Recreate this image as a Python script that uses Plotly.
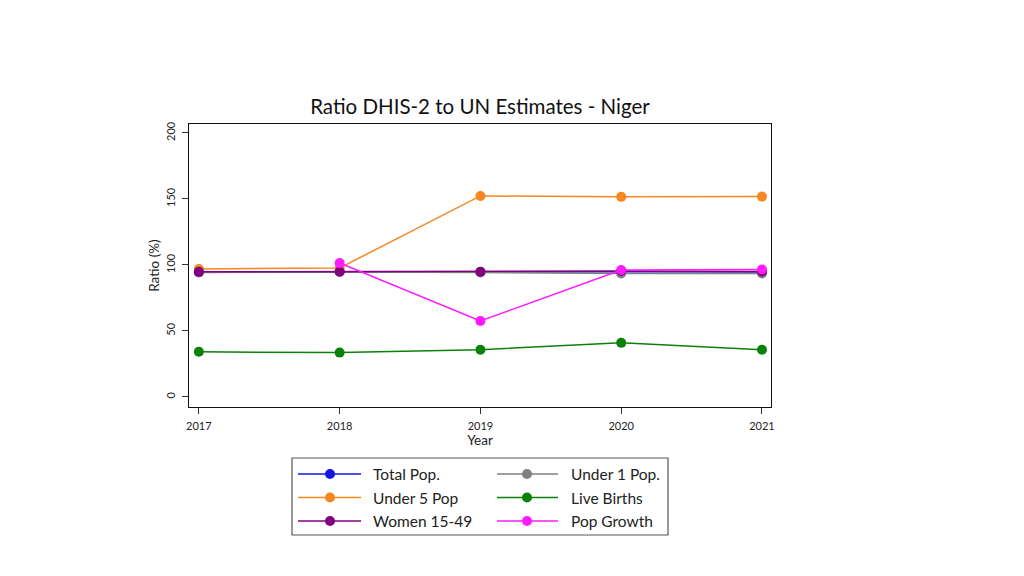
import plotly.graph_objects as go

years = [2017, 2018, 2019, 2020, 2021]
total_pop = [94.6, 94.9, 94.7, 94.9, 94.6]
under1_pop = [94.3, 94.7, 94.3, 93.6, 93.5]
under5_pop = [97.0, 97.7, 152.3, 151.6, 151.8]
live_births = [34.2, 33.6, 35.8, 41.0, 35.8]
women_15_49 = [94.8, 95.0, 94.9, 95.4, 95.0]
pop_growth = [None, 101.5, 57.6, 96.2, 96.6]

y_ticks = [0, 50, 100, 150, 200]

series = [
    ("Total Pop.", total_pop, "#1414e6"),
    ("Under 1 Pop.", under1_pop, "#808080"),
    ("Under 5 Pop", under5_pop, "#f7871e"),
    ("Live Births", live_births, "#0a820a"),
    ("Women 15-49", women_15_49, "#800080"),
    ("Pop Growth", pop_growth, "#ff1aff"),
]

fig = go.Figure()
for name, vals, col in series:
    fig.add_trace(go.Scatter(
        x=years, y=vals, name=name, mode="lines+markers",
        line=dict(color=col, width=1.5),
        marker=dict(color=col, size=10),
        showlegend=False,
    ))

# plot area in page pixels (page has 8px body offset)
PL, PR, PT, PB = 189, 771, 124, 407
def px(x):
    return (x - PL) / (PR - PL)
def py(y):
    return (PB - y) / (PB - PT)

FONT = "Lato"
shapes = [dict(type="rect", xref="paper", yref="paper",
               x0=px(292), x1=px(668), y0=py(535), y1=py(458),
               line=dict(color="#555", width=1.2), fillcolor="rgba(0,0,0,0)")]
annotations = []
row_y = [474, 497.5, 521]
cols = [(298, 361, 330, 371), (497, 558, 527, 569)]
for i, (name, vals, col) in enumerate(series):
    c = cols[i % 2]
    ry = row_y[i // 2]
    shapes.append(dict(type="line", xref="paper", yref="paper",
                       x0=px(c[0]), x1=px(c[1]), y0=py(ry), y1=py(ry),
                       line=dict(color=col, width=1.5)))
    shapes.append(dict(type="circle", xref="paper", yref="paper",
                       xsizemode="pixel", ysizemode="pixel",
                       xanchor=px(c[2]), yanchor=py(ry),
                       x0=-5, x1=5, y0=-5, y1=5,
                       line=dict(color=col, width=0), fillcolor=col))
    annotations.append(dict(text=name, xref="paper", yref="paper",
                            x=px(c[3]), y=py(ry), xanchor="left", yanchor="middle",
                            showarrow=False, font=dict(size=15.5, color="#222", family=FONT)))

fig.update_layout(
    width=1024, height=576,
    margin=dict(l=PL - 8, r=1024 - PR + 8, t=PT - 8, b=576 - PB + 8),
    paper_bgcolor="white", plot_bgcolor="white",
    font=dict(family=FONT, color="#222"),
    title=dict(text="Ratio DHIS-2 to UN Estimates - Niger", x=(480 - 8) / 1024, xanchor="center",
               y=1 - (107 - 8) / 576, yanchor="middle", font=dict(size=20.5, color="#111", family=FONT)),
    xaxis=dict(range=[2016.93, 2021.064], tickvals=years, ticks="outside", ticklen=6,
               tickcolor="#333", showline=True, linecolor="#111", linewidth=1, mirror=True,
               showgrid=False, zeroline=False, tickfont=dict(size=11, color="#222"),
               ticklabelstandoff=3,
               title=dict(text="Year", font=dict(size=13.5, color="#222"), standoff=2)),
    yaxis=dict(range=[-7.6, 206.8], tickvals=y_ticks, ticks="outside", ticklen=6,
               tickcolor="#333", showline=True, linecolor="#111", linewidth=1, mirror=True,
               showgrid=False, zeroline=False, tickangle=-90, tickfont=dict(size=11, color="#222"),
               ticklabelstandoff=3,
               title=dict(text="Ratio (%)", font=dict(size=13.5, color="#222"), standoff=0)),
    shapes=shapes,
    annotations=annotations,
)

fig.write_html("out.html")
